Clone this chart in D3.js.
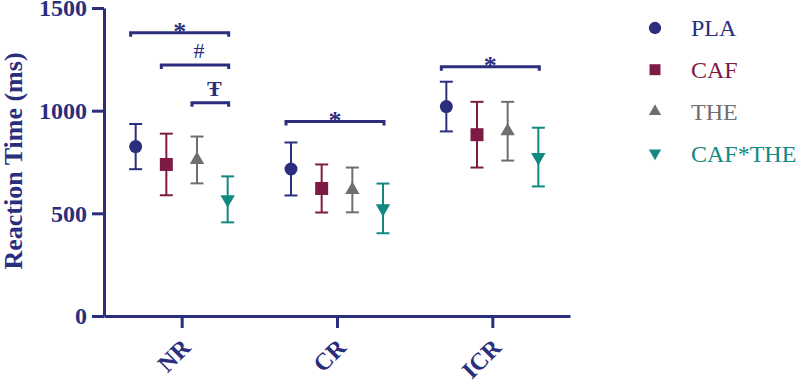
<!DOCTYPE html>
<html lang="en">
<head>
<meta charset="UTF-8">
<script src="https://d3js.org/d3.v7.min.js"></script>
<title>Reaction Time</title>
<style>
  body { margin: 0; background: #fff; }
  text { font-family: "Liberation Serif", "DejaVu Serif", serif; }
</style>
</head>
<body>
<svg width="800" height="385"></svg>
<script>
var categories = ["NR", "CR", "ICR"];
var groups = ["PLA", "CAF", "THE", "CAF*THE"];
var colors = ["#2a2e7d", "#7e1b44", "#6f6f6f", "#138880"];
// mean and SD per group, in category order
var meanPLA = [825, 716, 1020];
var sdPLA = [110, 129, 121];
var meanCAF = [738, 621, 883];
var sdCAF = [150, 117, 160];
var meanTHE = [760, 614, 900];
var sdTHE = [114, 109, 143];
var meanCT = [568, 524, 774];
var sdCT = [112, 121, 143];
var yTicks = [0, 500, 1000, 1500];
// significance brackets
var sigCat = ["NR", "NR", "NR", "CR", "ICR"];
var sigFrom = ["PLA", "CAF", "THE", "PLA", "PLA"];
var sigTo = ["CAF*THE", "CAF*THE", "CAF*THE", "CAF*THE", "CAF*THE"];
var sigLevel = [1379, 1223, 1039, 947, 1214];
var sigLabel = ["*", "#", "\u0166", "*", "*"];

var means = [meanPLA, meanCAF, meanTHE, meanCT];
var sds = [sdPLA, sdCAF, sdTHE, sdCT];

var navy = "#2a2e7d";
var svg = d3.select("svg");

var x = d3.scalePoint().domain(categories).range([104, 570]).padding(0.5);
var xo = d3.scalePoint().domain(groups).range([-46, 46]);
var y = d3.scaleLinear().domain([0, 1500]).range([316, 8]);

// y axis
var ya = svg.append("g").attr("transform", "translate(104,0)")
    .call(d3.axisLeft(y).tickValues(yTicks).tickFormat(d3.format("d"))
        .tickSize(12).tickSizeOuter(0).tickPadding(5));
ya.select(".domain").attr("stroke", navy).attr("stroke-width", 3);
ya.selectAll(".tick line").attr("stroke", navy).attr("stroke-width", 3);
ya.selectAll(".tick text").attr("fill", navy).attr("font-size", 24).attr("font-weight", "bold")
    .attr("font-family", "Liberation Serif");

// x axis
var xa = svg.append("g").attr("transform", "translate(0,316)")
    .call(d3.axisBottom(x).tickSize(12).tickSizeOuter(0));
xa.select(".domain").attr("stroke", navy).attr("stroke-width", 3);
xa.selectAll(".tick line").attr("stroke", navy).attr("stroke-width", 3);
xa.selectAll(".tick text").attr("fill", navy).attr("font-size", 24).attr("font-weight", "bold")
    .attr("font-family", "Liberation Serif")
    .attr("text-anchor", "end")
    .attr("transform", "translate(4,27) rotate(-45)")
    .attr("dy", "0.35em").attr("y", 0);

// y title
svg.append("text")
    .attr("transform", "translate(22,161) rotate(-90)")
    .attr("text-anchor", "middle")
    .attr("font-size", 26).attr("font-weight", "bold").attr("fill", navy)
    .text("Reaction Time (ms)");

var shapes = [d3.symbolCircle, d3.symbolSquare, d3.symbolTriangle, d3.symbolTriangle];
var sizes = [133, 169, 90, 90];
var rots = [0, 0, 0, 180];

// error bars and markers
groups.forEach(function(g, gi) {
    var gg = svg.append("g");
    categories.forEach(function(c, ci) {
        var cx = x(c) + xo(g);
        var m = means[gi][ci], s = sds[gi][ci];
        gg.append("line").attr("x1", cx).attr("x2", cx).attr("y1", y(m + s)).attr("y2", y(m - s))
            .attr("stroke", colors[gi]).attr("stroke-width", 2);
        [m + s, m - s].forEach(function(v) {
            gg.append("line").attr("x1", cx - 6.5).attr("x2", cx + 6.5).attr("y1", y(v)).attr("y2", y(v))
                .attr("stroke", colors[gi]).attr("stroke-width", 2);
        });
        gg.append("path")
            .attr("d", d3.symbol().type(shapes[gi]).size(sizes[gi]))
            .attr("transform", "translate(" + cx + "," + y(m) + ") rotate(" + rots[gi] + ")")
            .attr("fill", colors[gi]);
    });
});

// significance brackets
sigCat.forEach(function(c, i) {
    var x1 = x(c) + xo(sigFrom[i]) - 5;
    var x2 = x(c) + xo(sigTo[i]) + 1;
    var yy = y(sigLevel[i]);
    var star = sigLabel[i] == "*";
    svg.append("path")
        .attr("d", "M" + x1 + "," + (yy + 4) + "V" + yy + "H" + x2 + "V" + (yy + 4))
        .attr("fill", "none").attr("stroke", navy).attr("stroke-width", 3);
    svg.append("text")
        .attr("x", (x1 + x2) / 2 + (star ? 0 : 4)).attr("y", yy - (star ? 6 : 7))
        .attr("text-anchor", "middle")
        .attr("font-size", star ? 26 : 22)
        .attr("font-weight", sigLabel[i] == "#" ? "normal" : "bold")
        .attr("fill", navy)
        .attr("dy", star ? "0.5em" : "0")
        .text(sigLabel[i]);
});

// legend
var legend = svg.append("g").attr("transform", "translate(655,28)");
groups.forEach(function(g, gi) {
    var row = legend.append("g").attr("transform", "translate(0," + gi * 41.7 + ")");
    row.append("path")
        .attr("d", d3.symbol().type(shapes[gi]).size(gi < 2 ? 120 : 65))
        .attr("transform", "rotate(" + rots[gi] + ")")
        .attr("fill", colors[gi]);
    row.append("text").attr("x", 36).attr("dy", "0.35em")
        .attr("font-size", 24).attr("fill", colors[gi])
        .text(g);
});
</script>
</body>
</html>
